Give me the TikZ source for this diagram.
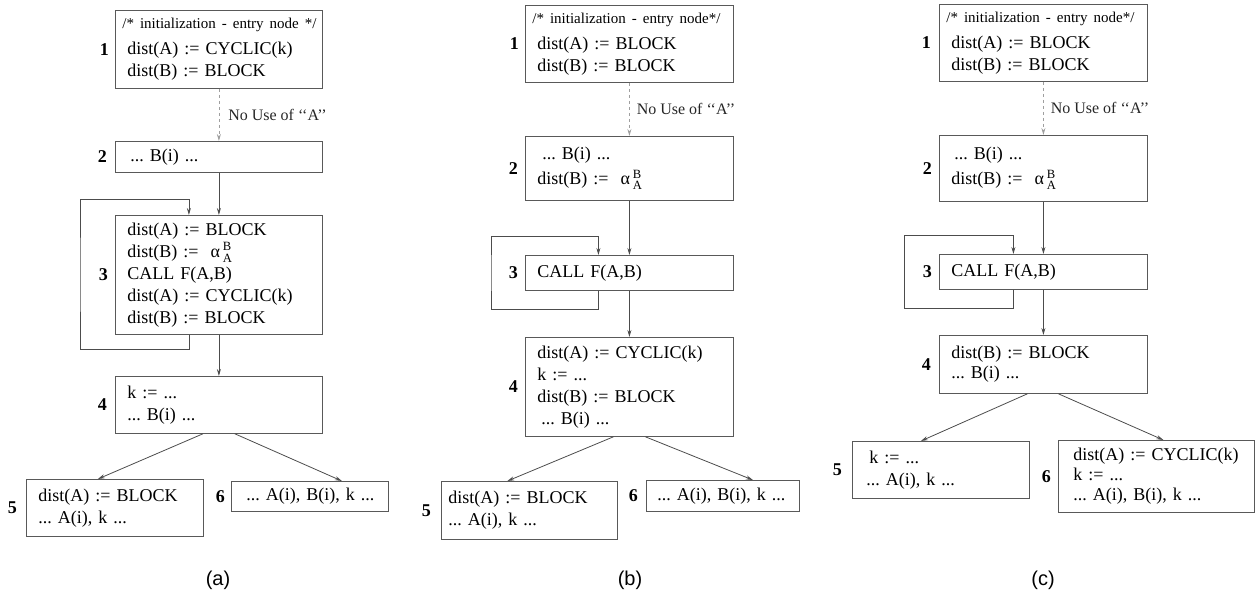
\documentclass[tikz,border=0pt]{standalone}
\usepackage{amsmath}
\usepackage{fontspec}
\setmainfont{Liberation Serif}
\setsansfont{Liberation Sans}
\usetikzlibrary{arrows.meta, positioning}
\definecolor{boxgray}{gray}{0.35}
\definecolor{arrgray}{gray}{0.3}
\frenchspacing
\newcommand{\alphaBA}{α\,$^{\text{B}}_{\text{A}}$}
\newcommand{\initcmt}[1]{\hspace*{-5pt}{\fontsize{15}{18}\selectfont\mbox{#1}}\\[4pt]}
\newcommand{\quotA}{{`}{`}A{'}{'}}

\begin{document}
\begin{tikzpicture}[
    x=1pt, y=-1pt,
    blk/.style={rectangle, draw=boxgray, line width=0.8pt, anchor=north west, align=left,
        inner xsep=12pt, inner ysep=0pt, text width=#1, font=\fontsize{18}{22}\selectfont},
    num/.style={font=\fontsize{18}{18}\selectfont\bfseries, inner sep=0pt},
    arrow/.style={-{Stealth[length=7pt,width=4pt]}, draw=arrgray, line width=0.8pt},
    dasharrow/.style={arrow, draw=gray!75, dashed},
    note/.style={right, font=\fontsize{16}{16}\selectfont, text=black!85, inner xsep=9pt},
    panelcap/.style={font=\sffamily\fontsize{20}{20}\selectfont}
]
    \useasboundingbox (0,0) rectangle (1260,604);

    % (a)
    \node[blk=183pt, minimum height=78pt] (a1) at (115,10)
        {\initcmt{/* initialization - entry node */}dist(A) := CYCLIC(k)\\ dist(B) := BLOCK};
    \node[blk=183pt, minimum height=31pt] (a2) at (115,141) {\hspace*{3pt}... B(i) ...};
    \node[blk=183pt, minimum height=119pt] (a3) at (115,215)
        {dist(A) := BLOCK\\ dist(B) := \ \alphaBA\\ CALL F(A,B)\\ dist(A) := CYCLIC(k)\\ dist(B) := BLOCK};
    \node[blk=183pt, minimum height=57pt] (a4) at (115,376) {k := ...\\ ... B(i) ...};
    \node[blk=153pt, minimum height=57pt] (a5) at (26,479) {dist(A) := BLOCK\\ ... A(i), k ...};
    \node[blk=133pt, minimum height=30pt] (a6) at (231,481) {\hspace*{3pt}\mbox{... A(i), B(i), k ...}};

    \node[num, left=6pt of a1] (a1n) {1};
    \node[num, left=8pt of a2] (a2n) {2};
    \node[num, left=7pt of a3] (a3n) {3};
    \node[num, left=8pt of a4] (a4n) {4};
    \node[num, left=9pt of a5] (a5n) {5};
    \node[num, left=6pt of a6] (a6n) {6};

    \draw[dasharrow] (a1) -- (a2) node[note, midway] (anote) {No Use of \quotA};
    \draw[arrow] (a2) -- (a3);
    \draw[arrow] (a3) -- (a4);
    \draw[arrow] ([xshift=-30pt]a3.south) -- ++(0,15) -| ([xshift=-35pt]a3.west)
        |- ([xshift=-30pt,yshift=16pt]a3.north) -- ([xshift=-30pt]a3.north);
    \draw[arrow] ([xshift=-16pt]a4.south) -- ([xshift=-17pt]a5.north);
    \draw[arrow] ([xshift=16pt]a4.south) -- ([xshift=32pt]a6.north);

    % (b)
    \node[blk=184pt, minimum height=77pt] (b1) at (525,5)
        {\initcmt{/* initialization - entry node*/}dist(A) := BLOCK\\ dist(B) := BLOCK};
    \node[blk=184pt, minimum height=64pt] (b2) at (525,136)
        {\hspace*{5pt}... B(i) ...\\[3pt] dist(B) := \ \alphaBA};
    \node[blk=184pt, minimum height=35pt] (b3) at (525,255) {CALL F(A,B)};
    \node[blk=184pt, minimum height=99pt] (b4) at (525,337)
        {dist(A) := CYCLIC(k)\\ k := ...\\ dist(B) := BLOCK\\ \hspace*{4pt}... B(i) ...};
    \node[blk=162pt, inner xsep=7pt, minimum height=58pt] (b5) at (441,481) {dist(A) := BLOCK\\ ... A(i), k ...};
    \node[blk=131pt, inner xsep=11pt, minimum height=31pt] (b6) at (646,480) {\mbox{... A(i), B(i), k ...}};

    \node[num, left=6pt of b1] (b1n) {1};
    \node[num, left=7pt of b2] (b2n) {2};
    \node[num, left=7pt of b3] (b3n) {3};
    \node[num, left=7pt of b4] (b4n) {4};
    \node[num, left=10pt of b5] (b5n) {5};
    \node[num, left=8pt of b6] (b6n) {6};

    \draw[dasharrow] (b1) -- (b2) node[note, midway, inner xsep=7pt] (bnote) {No Use of \quotA};
    \draw[arrow] (b2) -- (b3);
    \draw[arrow] (b3) -- (b4);
    \draw[arrow] ([xshift=-31pt]b3.south) -- ++(0,19) -| ([xshift=-34pt]b3.west)
        |- ([xshift=-31pt,yshift=19pt]b3.north) -- ([xshift=-31pt]b3.north);
    \draw[arrow] ([xshift=-16pt]b4.south) -- ([xshift=-22pt]b5.north);
    \draw[arrow] ([xshift=16pt]b4.south) -- ([xshift=30pt]b6.north);

    % (c)
    \node[blk=184pt, minimum height=77pt] (c1) at (939,4)
        {\initcmt{/* initialization - entry node*/}dist(A) := BLOCK\\ dist(B) := BLOCK};
    \node[blk=184pt, minimum height=66pt] (c2) at (939,135)
        {\hspace*{3pt}... B(i) ...\\[3pt] dist(B) := \ \alphaBA};
    \node[blk=184pt, minimum height=35pt] (c3) at (939,254) {CALL F(A,B)};
    \node[blk=184pt, minimum height=58pt] (c4) at (939,335) {dist(B) := BLOCK\\[-2pt] ... B(i) ...};
    \node[blk=149pt, inner xsep=14pt, minimum height=57pt] (c5) at (852,441) {\hspace*{3pt}k := ...\\ ... A(i), k ...};
    \node[blk=166pt, inner xsep=15pt, minimum height=72pt] (c6) at (1058,440)
        {dist(A) := CYCLIC(k)\\[-2pt] k := ...\\[-2pt] ... A(i), B(i), k ...};

    \node[num, left=8pt of c1] (c1n) {1};
    \node[num, left=7pt of c2] (c2n) {2};
    \node[num, left=7pt of c3] (c3n) {3};
    \node[num, left=8pt of c4] (c4n) {4};
    \node[num, left=10pt of c5] (c5n) {5};
    \node[num, left=7pt of c6] (c6n) {6};

    \draw[dasharrow] (c1) -- (c2) node[note, midway, inner xsep=7pt] (cnote) {No Use of \quotA};
    \draw[arrow] (c2) -- (c3);
    \draw[arrow] (c3) -- (c4);
    \draw[arrow] ([xshift=-30pt]c3.south) -- ++(0,19) -| ([xshift=-35pt]c3.west)
        |- ([xshift=-30pt,yshift=19pt]c3.north) -- ([xshift=-30pt]c3.north);
    \draw[arrow] ([xshift=-16pt]c4.south) -- ([xshift=-20pt]c5.north);
    \draw[arrow] ([xshift=15pt]c4.south) -- ([xshift=7pt]c6.north);

    % captions
    \node[panelcap] (capa) at (218,580) {(a)};
    \node[panelcap] (capb) at (630,580) {(b)};
    \node[panelcap] (capc) at (1043,580) {(c)};
\end{tikzpicture}
\end{document}
